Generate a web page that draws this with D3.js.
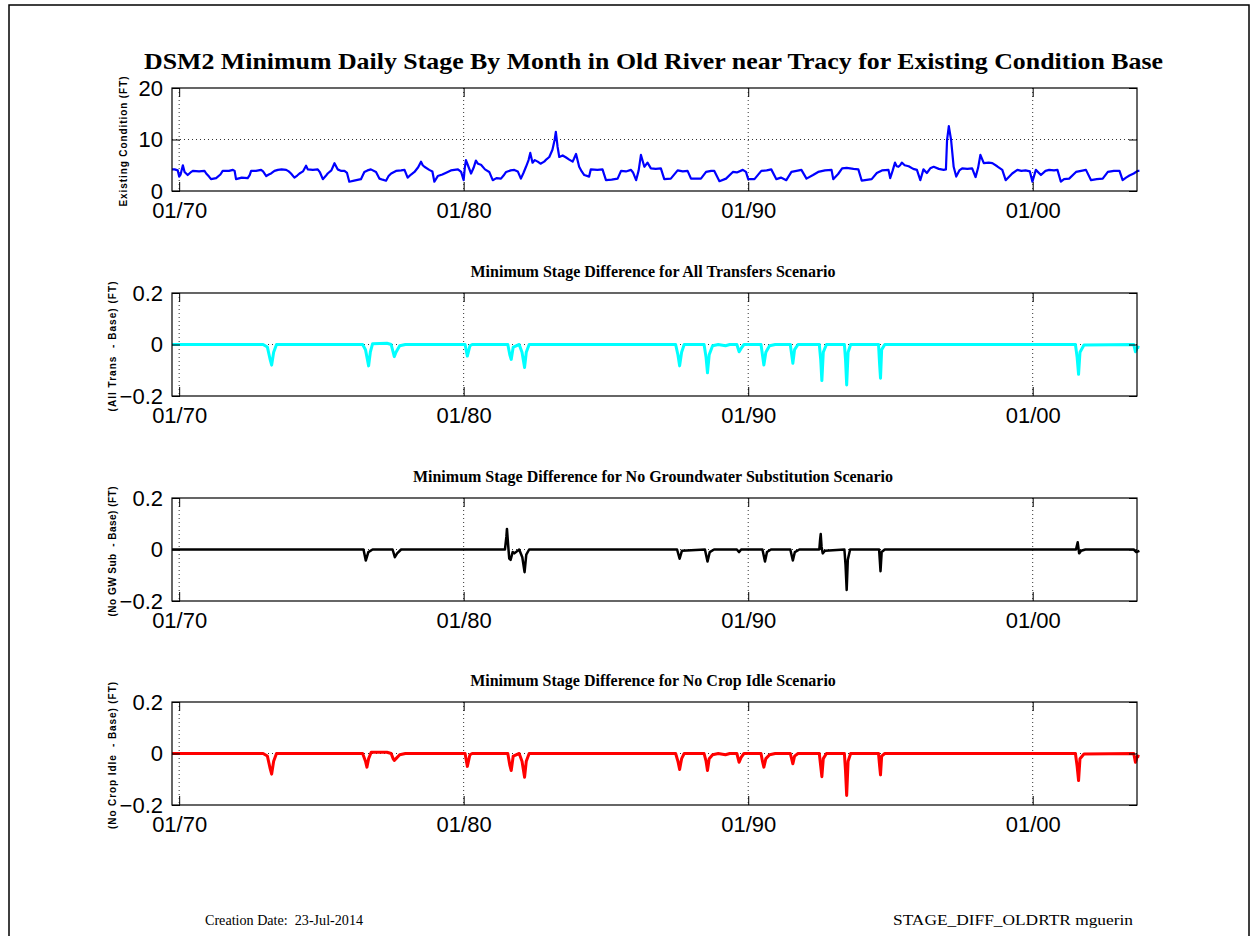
<!DOCTYPE html>
<html>
<head>
<meta charset="utf-8">
<script src="https://cdn.jsdelivr.net/npm/d3@7"></script>
<style>
  body { margin: 0; background: #fff; }
  svg { display: block; }
</style>
</head>
<body>
<svg id="chart" width="1252" height="936"></svg>
<script>
// ---- data (decimal years, feet) ----
const baseT = [1969.75,1969.84,1969.95,1970.0,1970.05,1970.13,1970.19,1970.3,1970.4,1970.48,1970.7,1970.89,1970.95,1971.05,1971.12,1971.3,1971.45,1971.53,1971.75,1971.89,1971.95,1972.0,1972.2,1972.41,1972.48,1972.53,1972.7,1972.88,1972.95,1973.06,1973.15,1973.23,1973.35,1973.47,1973.6,1973.76,1973.85,1973.93,1974.05,1974.15,1974.23,1974.35,1974.46,1974.52,1974.7,1974.87,1974.95,1975.05,1975.15,1975.22,1975.35,1975.46,1975.57,1975.7,1975.81,1975.9,1975.98,1976.15,1976.39,1976.51,1976.62,1976.74,1976.92,1977.04,1977.15,1977.27,1977.36,1977.45,1977.62,1977.8,1977.92,1978.03,1978.15,1978.27,1978.4,1978.5,1978.56,1978.62,1978.79,1978.9,1978.97,1979.09,1979.25,1979.44,1979.55,1979.67,1979.8,1979.91,1980.0,1980.04,1980.08,1980.15,1980.26,1980.35,1980.43,1980.5,1980.61,1980.75,1980.9,1981.02,1981.15,1981.31,1981.4,1981.49,1981.65,1981.78,1981.9,1982.01,1982.1,1982.19,1982.28,1982.34,1982.42,1982.5,1982.6,1982.7,1982.83,1982.92,1983.01,1983.12,1983.2,1983.24,1983.3,1983.36,1983.48,1983.6,1983.71,1983.83,1983.88,1983.95,1984.06,1984.15,1984.24,1984.41,1984.47,1984.7,1984.88,1985.0,1985.2,1985.41,1985.53,1985.7,1985.88,1985.95,1986.06,1986.15,1986.23,1986.35,1986.46,1986.58,1986.75,1986.93,1987.05,1987.28,1987.52,1987.7,1987.87,1987.99,1988.34,1988.52,1988.7,1988.81,1988.99,1989.22,1989.46,1989.6,1989.81,1989.92,1990.0,1990.22,1990.46,1990.65,1990.81,1990.99,1991.15,1991.34,1991.52,1991.7,1991.87,1992.05,1992.28,1992.46,1992.7,1992.93,1992.99,1993.16,1993.3,1993.46,1993.7,1993.87,1993.99,1994.34,1994.52,1994.7,1994.93,1994.99,1995.08,1995.16,1995.22,1995.28,1995.34,1995.4,1995.5,1995.64,1995.8,1995.93,1996.05,1996.16,1996.28,1996.4,1996.52,1996.7,1996.87,1996.95,1996.99,1997.05,1997.13,1997.22,1997.31,1997.42,1997.52,1997.7,1997.87,1997.99,1998.08,1998.16,1998.28,1998.45,1998.58,1998.75,1998.93,1999.05,1999.28,1999.46,1999.6,1999.75,1999.9,1999.99,2000.11,2000.29,2000.45,2000.58,2000.75,2000.87,2000.99,2001.1,2001.28,2001.52,2001.7,2001.87,2002.05,2002.25,2002.46,2002.64,2002.85,2003.05,2003.16,2003.28,2003.4,2003.55,2003.69,2003.75]
const baseV = [4.2,4.2,4.0,2.8,3.2,5.0,3.7,3.1,3.6,3.9,3.8,3.9,3.4,2.8,2.3,2.5,3.2,3.9,3.9,4.1,3.9,2.3,2.6,2.5,3.1,3.9,3.9,4.1,3.8,2.9,3.2,3.4,3.9,4.1,4.2,4.1,3.8,3.4,2.6,3.0,3.4,3.8,4.9,4.2,4.1,4.2,3.6,2.3,2.9,3.4,4.0,5.4,4.2,3.9,3.9,3.5,1.8,2.0,2.3,3.7,4.0,4.2,3.7,2.4,2.2,2.0,2.9,3.4,3.9,4.0,4.1,2.6,3.2,3.7,4.6,5.7,5.0,4.7,4.1,3.8,1.8,2.9,3.2,3.7,4.0,4.1,4.2,3.7,2.1,4.5,6.0,5.0,3.4,4.5,5.9,5.3,5.1,4.2,3.7,2.1,2.5,2.4,3.0,3.7,4.0,4.1,3.8,2.4,3.5,4.7,6.0,7.4,5.5,6.0,5.7,5.3,5.7,6.2,6.6,8.0,10.0,11.5,8.6,6.6,6.9,6.5,6.1,5.7,6.3,7.2,4.7,3.8,3.1,2.8,4.2,4.1,4.2,2.1,2.2,2.4,3.9,3.8,4.1,3.6,2.1,4.0,7.0,4.7,5.5,4.4,4.3,4.4,2.3,2.4,4.0,3.8,3.9,2.4,2.4,3.7,3.9,3.9,1.9,2.4,3.7,3.6,4.1,3.7,2.3,2.3,3.9,4.0,4.2,2.3,2.6,2.1,3.7,3.9,4.1,2.4,3.1,3.7,4.0,4.1,2.3,3.3,4.4,4.5,4.3,4.2,2.0,2.3,3.5,4.0,4.1,2.5,4.0,5.5,4.8,4.7,5.0,5.5,5.0,4.8,4.3,4.1,2.1,4.2,3.5,4.4,4.7,4.3,4.1,4.2,9.9,12.6,9.9,4.7,2.8,4.0,4.4,4.3,4.4,2.7,4.5,7.0,5.4,5.5,5.4,4.8,4.1,2.1,3.4,4.1,3.9,4.0,3.8,1.8,4.1,3.1,3.9,4.1,4.0,4.1,1.8,2.3,2.4,3.7,3.9,4.1,2.1,2.3,2.4,3.7,3.9,3.9,2.1,2.6,3.0,3.4,3.9,3.9]

const transT = [1969.75,1972.95,1973.1,1973.2,1973.25,1973.32,1973.42,1976.45,1976.55,1976.62,1976.66,1976.72,1976.8,1977.3,1977.45,1977.52,1977.56,1977.62,1977.75,1977.95,1980.05,1980.13,1980.22,1980.3,1981.55,1981.62,1981.67,1981.74,1981.95,1982.05,1982.14,1982.2,1982.3,1987.45,1987.53,1987.59,1987.66,1987.75,1988.45,1988.52,1988.57,1988.63,1988.75,1988.95,1989.2,1989.35,1989.6,1989.68,1989.75,1989.85,1990.45,1990.5,1990.55,1990.62,1990.75,1990.95,1991.48,1991.57,1991.63,1991.75,1992.5,1992.55,1992.59,1992.64,1992.75,1993.38,1993.42,1993.46,1993.51,1993.6,1994.58,1994.62,1994.65,1994.69,1994.8,2001.5,2001.56,2001.61,2001.66,2001.8,2003.55,2003.61,2003.68,2003.75]
const transV = [0,0,-0.01,-0.06,-0.08,-0.03,0,0,-0.02,-0.06,-0.083,-0.03,0.003,0.005,0,-0.03,-0.047,-0.03,-0.005,0,0,-0.045,-0.005,0,0,-0.04,-0.058,-0.01,0,-0.03,-0.089,-0.03,0,0,-0.04,-0.083,-0.03,0,0,-0.05,-0.11,-0.04,-0.005,0,-0.005,0,0,-0.028,-0.015,0,0,-0.04,-0.08,-0.03,-0.005,0,0,-0.073,-0.02,0,0,-0.06,-0.14,-0.03,0,0,-0.06,-0.157,-0.03,0,0,-0.08,-0.131,-0.02,0,0,-0.05,-0.116,-0.03,-0.002,0,-0.028,-0.01,-0.012]

const noGwT = [1969.75,1976.48,1976.56,1976.65,1976.8,1977.5,1977.58,1977.66,1977.8,1981.45,1981.5,1981.52,1981.56,1981.6,1981.65,1981.72,1981.78,1981.95,1982.06,1982.14,1982.2,1982.3,1987.5,1987.59,1987.67,1988.48,1988.57,1988.65,1988.8,1989.6,1989.68,1989.75,1990.5,1990.59,1990.66,1990.8,1991.48,1991.57,1991.64,1991.8,1992.5,1992.53,1992.55,1992.58,1992.62,1992.7,1993.38,1993.42,1993.46,1993.5,1993.58,1994.6,1994.63,1994.65,1994.69,1994.8,2001.52,2001.58,2001.63,2001.7,2001.85,2003.55,2003.64,2003.75]
const noGwV = [0,0,-0.043,-0.01,0,0,-0.03,-0.015,0,0,0.05,0.08,0.02,-0.035,-0.04,-0.01,-0.015,0,-0.03,-0.088,-0.02,0,0,-0.036,-0.005,0,-0.047,-0.01,0,0,-0.01,0,0,-0.047,-0.01,0,0,-0.043,-0.01,0,0,0.04,0.06,0.01,-0.015,-0.005,0,-0.06,-0.157,-0.04,0,0,-0.05,-0.084,-0.01,0,0,0.028,-0.015,-0.005,0,0,-0.01,-0.005]

const idleT = [1969.75,1972.95,1973.1,1973.2,1973.25,1973.32,1973.42,1976.45,1976.55,1976.6,1976.66,1976.75,1977.3,1977.45,1977.52,1977.56,1977.62,1977.75,1977.95,1980.05,1980.13,1980.22,1980.3,1981.55,1981.62,1981.67,1981.74,1981.95,1982.05,1982.14,1982.2,1982.3,1987.45,1987.53,1987.59,1987.66,1987.75,1988.45,1988.52,1988.57,1988.63,1988.75,1988.95,1989.2,1989.35,1989.6,1989.68,1989.75,1989.85,1990.45,1990.5,1990.55,1990.62,1990.75,1990.95,1991.48,1991.57,1991.63,1991.75,1992.5,1992.55,1992.59,1992.64,1992.75,1993.38,1993.42,1993.46,1993.51,1993.6,1994.58,1994.62,1994.65,1994.69,1994.8,2001.5,2001.56,2001.61,2001.66,2001.8,2003.55,2003.61,2003.68,2003.75]
const idleV = [0,0,-0.01,-0.06,-0.08,-0.03,0,0,-0.03,-0.053,-0.02,0.005,0.005,0,-0.02,-0.027,-0.02,-0.005,0,0,-0.05,-0.005,0,0,-0.045,-0.066,-0.01,0,-0.03,-0.092,-0.03,0,0,-0.03,-0.062,-0.02,0,0,-0.03,-0.066,-0.02,-0.005,0,-0.005,0,0,-0.034,-0.015,0,0,-0.03,-0.053,-0.02,-0.005,0,0,-0.04,-0.01,0,0,-0.05,-0.09,-0.02,0,0,-0.07,-0.163,-0.03,0,0,-0.05,-0.083,-0.01,0,0,-0.05,-0.105,-0.02,-0.002,0,-0.034,-0.01,-0.012]

const dateTicks = ['1970-01-01', '1980-01-01', '1990-01-01', '2000-01-01']
const stageTicks = [0, 10, 20]
const diffTicks = [-0.2, 0, 0.2]

const mainTitle = 'DSM2 Minimum Daily Stage By Month in Old River near Tracy for Existing Condition Base'
const panels = [
  { title: '', ylabel: 'Existing Condition (FT)', t: baseT, v: baseV, color: '#0000ff', width: 2.2, domain: [0, 20], ticks: stageTicks, grid: [10] },
  { title: 'Minimum Stage Difference for All Transfers Scenario', ylabel: '(All Trans  - Base) (FT)', t: transT, v: transV, color: '#00ffff', width: 3, domain: [-0.2, 0.2], ticks: diffTicks, grid: [0] },
  { title: 'Minimum Stage Difference for No Groundwater Substitution Scenario', ylabel: '(No GW Sub  - Base) (FT)', t: noGwT, v: noGwV, color: '#000000', width: 2.5, domain: [-0.2, 0.2], ticks: diffTicks, grid: [0] },
  { title: 'Minimum Stage Difference for No Crop Idle Scenario', ylabel: '(No Crop Idle  - Base) (FT)', t: idleT, v: idleV, color: '#ff0000', width: 3, domain: [-0.2, 0.2], ticks: diffTicks, grid: [0] }
]

document.addEventListener('DOMContentLoaded', function () {
  drawChart()
})

function yearToDate(yr) {
  const y = Math.floor(yr)
  return new Date(new Date(y, 0, 1).getTime() + (yr - y) * 365.25 * 864e5)
}

function drawChart() {
  const svg = d3.select('#chart')
  const left = 172, right = 1137, h = 103
  const tops = [88, 293, 498, 702]

  // page frame
  svg.append('rect')
    .attr('x', 9).attr('y', 5).attr('width', 1240).attr('height', 960)
    .attr('fill', 'none').attr('stroke', '#000').attr('stroke-width', 1.5)

  svg.append('text')
    .attr('x', 144).attr('y', 69)
    .attr('textLength', 1019).attr('lengthAdjust', 'spacingAndGlyphs')
    .style('font', 'bold 23px "Liberation Serif", "Times New Roman", serif')
    .text(mainTitle)

  const x = d3.scaleTime()
    .domain([new Date(1969, 9, 1), new Date(2003, 8, 1)])
    .range([left, right])
  const tickDates = dateTicks.map(d => d3.timeParse('%Y-%m-%d')(d))

  panels.forEach((p, i) => {
    const top = tops[i]
    const y = d3.scaleLinear().domain(p.domain).range([top + h, top])
    const g = svg.append('g')

    if (p.title) {
      g.append('text')
        .attr('x', 653).attr('y', top - 16)
        .attr('text-anchor', 'middle')
        .style('font', 'bold 16px "Liberation Serif", "Times New Roman", serif')
        .text(p.title)
    }

    // dotted grid
    g.selectAll('.vgrid')
      .data(tickDates)
      .join('line')
      .attr('x1', d => x(d)).attr('x2', d => x(d))
      .attr('y1', top).attr('y2', top + h)
      .attr('stroke', '#333').attr('stroke-width', 1)
      .attr('stroke-dasharray', '1,3')
    g.selectAll('.hgrid')
      .data(p.grid)
      .join('line')
      .attr('x1', left).attr('x2', right)
      .attr('y1', d => y(d)).attr('y2', d => y(d))
      .attr('stroke', '#333').attr('stroke-width', 1)
      .attr('stroke-dasharray', '1,3')

    // series
    const pts = p.t.map((t, k) => ({ date: yearToDate(t), value: p.v[k] }))
    g.append('path')
      .datum(pts)
      .attr('fill', 'none')
      .attr('stroke', p.color)
      .attr('stroke-width', p.width)
      .attr('stroke-linejoin', 'round')
      .attr('d', d3.line().x(d => x(d.date)).y(d => y(d.value)))

    // axes with inward ticks
    const fmt = d3.format('')
    g.append('g')
      .attr('transform', `translate(0,${top + h})`)
      .call(d3.axisBottom(x).tickValues(tickDates).tickSize(-9).tickPadding(11)
        .tickFormat(d3.timeFormat('%m/%y')))
    g.append('g')
      .attr('transform', `translate(0,${top})`)
      .call(d3.axisTop(x).tickValues(tickDates).tickSize(-9).tickFormat(''))
    g.append('g')
      .attr('transform', `translate(${left},0)`)
      .call(d3.axisLeft(y).tickValues(p.ticks).tickSize(-8).tickPadding(9)
        .tickFormat(d => d === 0 ? '0' : fmt(d)))
    g.append('g')
      .attr('transform', `translate(${right},0)`)
      .call(d3.axisRight(y).tickValues(p.ticks).tickSize(-8).tickFormat(''))

    g.selectAll('.domain').remove()
    g.selectAll('.tick line').attr('stroke', '#000')
    g.selectAll('.tick text')
      .style('font-family', '"Liberation Sans", Arial, sans-serif')
      .style('font-size', '22px')
      .attr('fill', '#000')

    g.append('rect')
      .attr('x', left).attr('y', top).attr('width', right - left).attr('height', h)
      .attr('fill', 'none').attr('stroke', '#000').attr('stroke-width', 1.2)

    g.append('text')
      .attr('transform', `translate(${i === 0 ? 127 : 116},${top + h / 2 + 2}) rotate(-90)`)
      .attr('text-anchor', 'middle')
      .attr('textLength', i === 3 ? 147 : 130).attr('lengthAdjust', 'spacing')
      .style('font', 'bold 10px "Liberation Sans", Arial, sans-serif')
      .style('white-space', 'pre')
      .text(p.ylabel)
  })

  const footer = 'font: 14px "Liberation Serif", "Times New Roman", serif'
  svg.append('text')
    .attr('x', 205).attr('y', 925)
    .attr('textLength', 158).attr('lengthAdjust', 'spacingAndGlyphs')
    .attr('style', footer).style('white-space', 'pre')
    .text('Creation Date:  23-Jul-2014')
  svg.append('text')
    .attr('x', 893).attr('y', 925)
    .attr('textLength', 240).attr('lengthAdjust', 'spacingAndGlyphs')
    .attr('style', footer)
    .text('STAGE_DIFF_OLDRTR mguerin')
}
</script>
</body>
</html>
